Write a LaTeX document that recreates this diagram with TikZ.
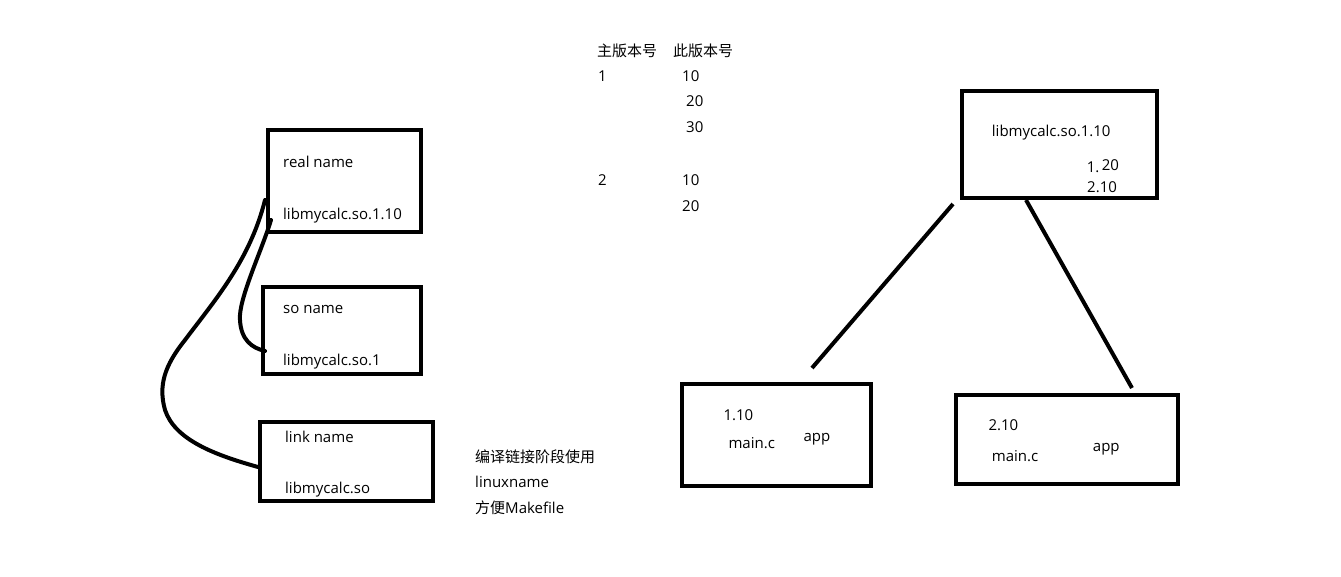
\documentclass[tikz,border=0pt]{standalone}
\usepackage{fontspec}
\setmainfont{Open Sans}
\newfontfamily\cjk{Noto Sans CJK SC}
\begin{document}
\begin{tikzpicture}[x=1pt,y=-1pt,
  box/.style={draw,line width=4pt,inner sep=0pt},
  txt/.style={anchor=base west,inner sep=0pt,font=\fontsize{15}{18}\selectfont},
  wire/.style={line width=4pt,line cap=round}]
  \useasboundingbox (0,0) rectangle (1341,577);
  % name boxes
  \node[box,minimum width=152.5pt,minimum height=101.5pt] (realbox) at (344.25,181.25) {};
  \node[box,minimum width=158pt,minimum height=87pt] (sobox) at (342,330.5) {};
  \node[box,minimum width=173pt,minimum height=79pt] (linkbox) at (346.5,461.5) {};
  \node[txt] (realname) at (283,168) {real name};
  \node[txt] (reallib) at (283,220) {libmycalc.so.1.10};
  \node[txt] (soname) at (283,313) {so name};
  \node[txt] (solib) at (283,365) {libmycalc.so.1};
  \node[txt] (linkname) at (285,442) {link name};
  \node[txt] (linklib) at (285,493) {libmycalc.so};
  % links between names
  \coordinate (reala) at (265,200);
  \coordinate (realb) at (271,220);
  \coordinate (soend) at (265,351);
  \coordinate (linkend) at (258,467);
  \draw[wire] (reala) .. controls (250,260) and (215,300) .. (185,340)
    .. controls (165,365) and (158,385) .. (165,410)
    .. controls (175,440) and (215,455) .. (linkend);
  \draw[wire] (realb) .. controls (262,250) and (238,300) .. (240,320)
    .. controls (241,340) and (252,348) .. (soend);
  % note
  \node[txt] (note1) at (475,462.7) {\cjk 编译链接阶段使用};
  \node[txt] (note2) at (475,487.7) {linuxname};
  \node[txt] (note3) at (475,513) {{\cjk 方便}Makefile};
  % version table
  \node[txt] (major) at (597,56.7) {\cjk 主版本号};
  \node[txt] (minor) at (673,56.7) {\cjk 此版本号};
  \node[txt] (majone) at (598,81.7) {1};
  \node[txt] (minone) at (682,81.7) {10};
  \node[txt] (mintwo) at (686,107) {20};
  \node[txt] (minthree) at (686,133) {30};
  \node[txt] (majtwo) at (598,185.7) {2};
  \node[txt] (minfour) at (682,185.7) {10};
  \node[txt] (minfive) at (682,211.7) {20};
  % library and apps
  \node[box,minimum width=195pt,minimum height=107pt] (libbox) at (1059.5,145) {};
  \node[txt] (libname) at (991.7,136.7) {libmycalc.so.1.10};
  \node[txt] (libverone) at (1086.7,173) {1.};
  \node[txt] (libvertwo) at (1101.7,170.7) {20};
  \node[txt] (libverthree) at (1087,193) {2.10};
  \node[box,minimum width=189pt,minimum height=102pt] (appone) at (776.5,435) {};
  \node[txt] (appverone) at (723.3,420.7) {1.10};
  \node[txt] (mainone) at (728.3,448) {main.c};
  \node[txt] (appnameone) at (803.3,441.7) {app};
  \node[box,minimum width=222pt,minimum height=89pt] (apptwo) at (1067,439.5) {};
  \node[txt] (appvertwo) at (988.3,430.7) {2.10};
  \node[txt] (maintwo) at (991.7,461.7) {main.c};
  \node[txt] (appnametwo) at (1092.7,451.7) {app};
  \coordinate (libl) at (953,204);
  \coordinate (applone) at (812,368);
  \coordinate (libr) at (1026,200);
  \coordinate (appltwo) at (1132,388);
  \draw[line width=4pt] (libl) -- (applone);
  \draw[line width=4pt] (libr) -- (appltwo);
\end{tikzpicture}
\end{document}
